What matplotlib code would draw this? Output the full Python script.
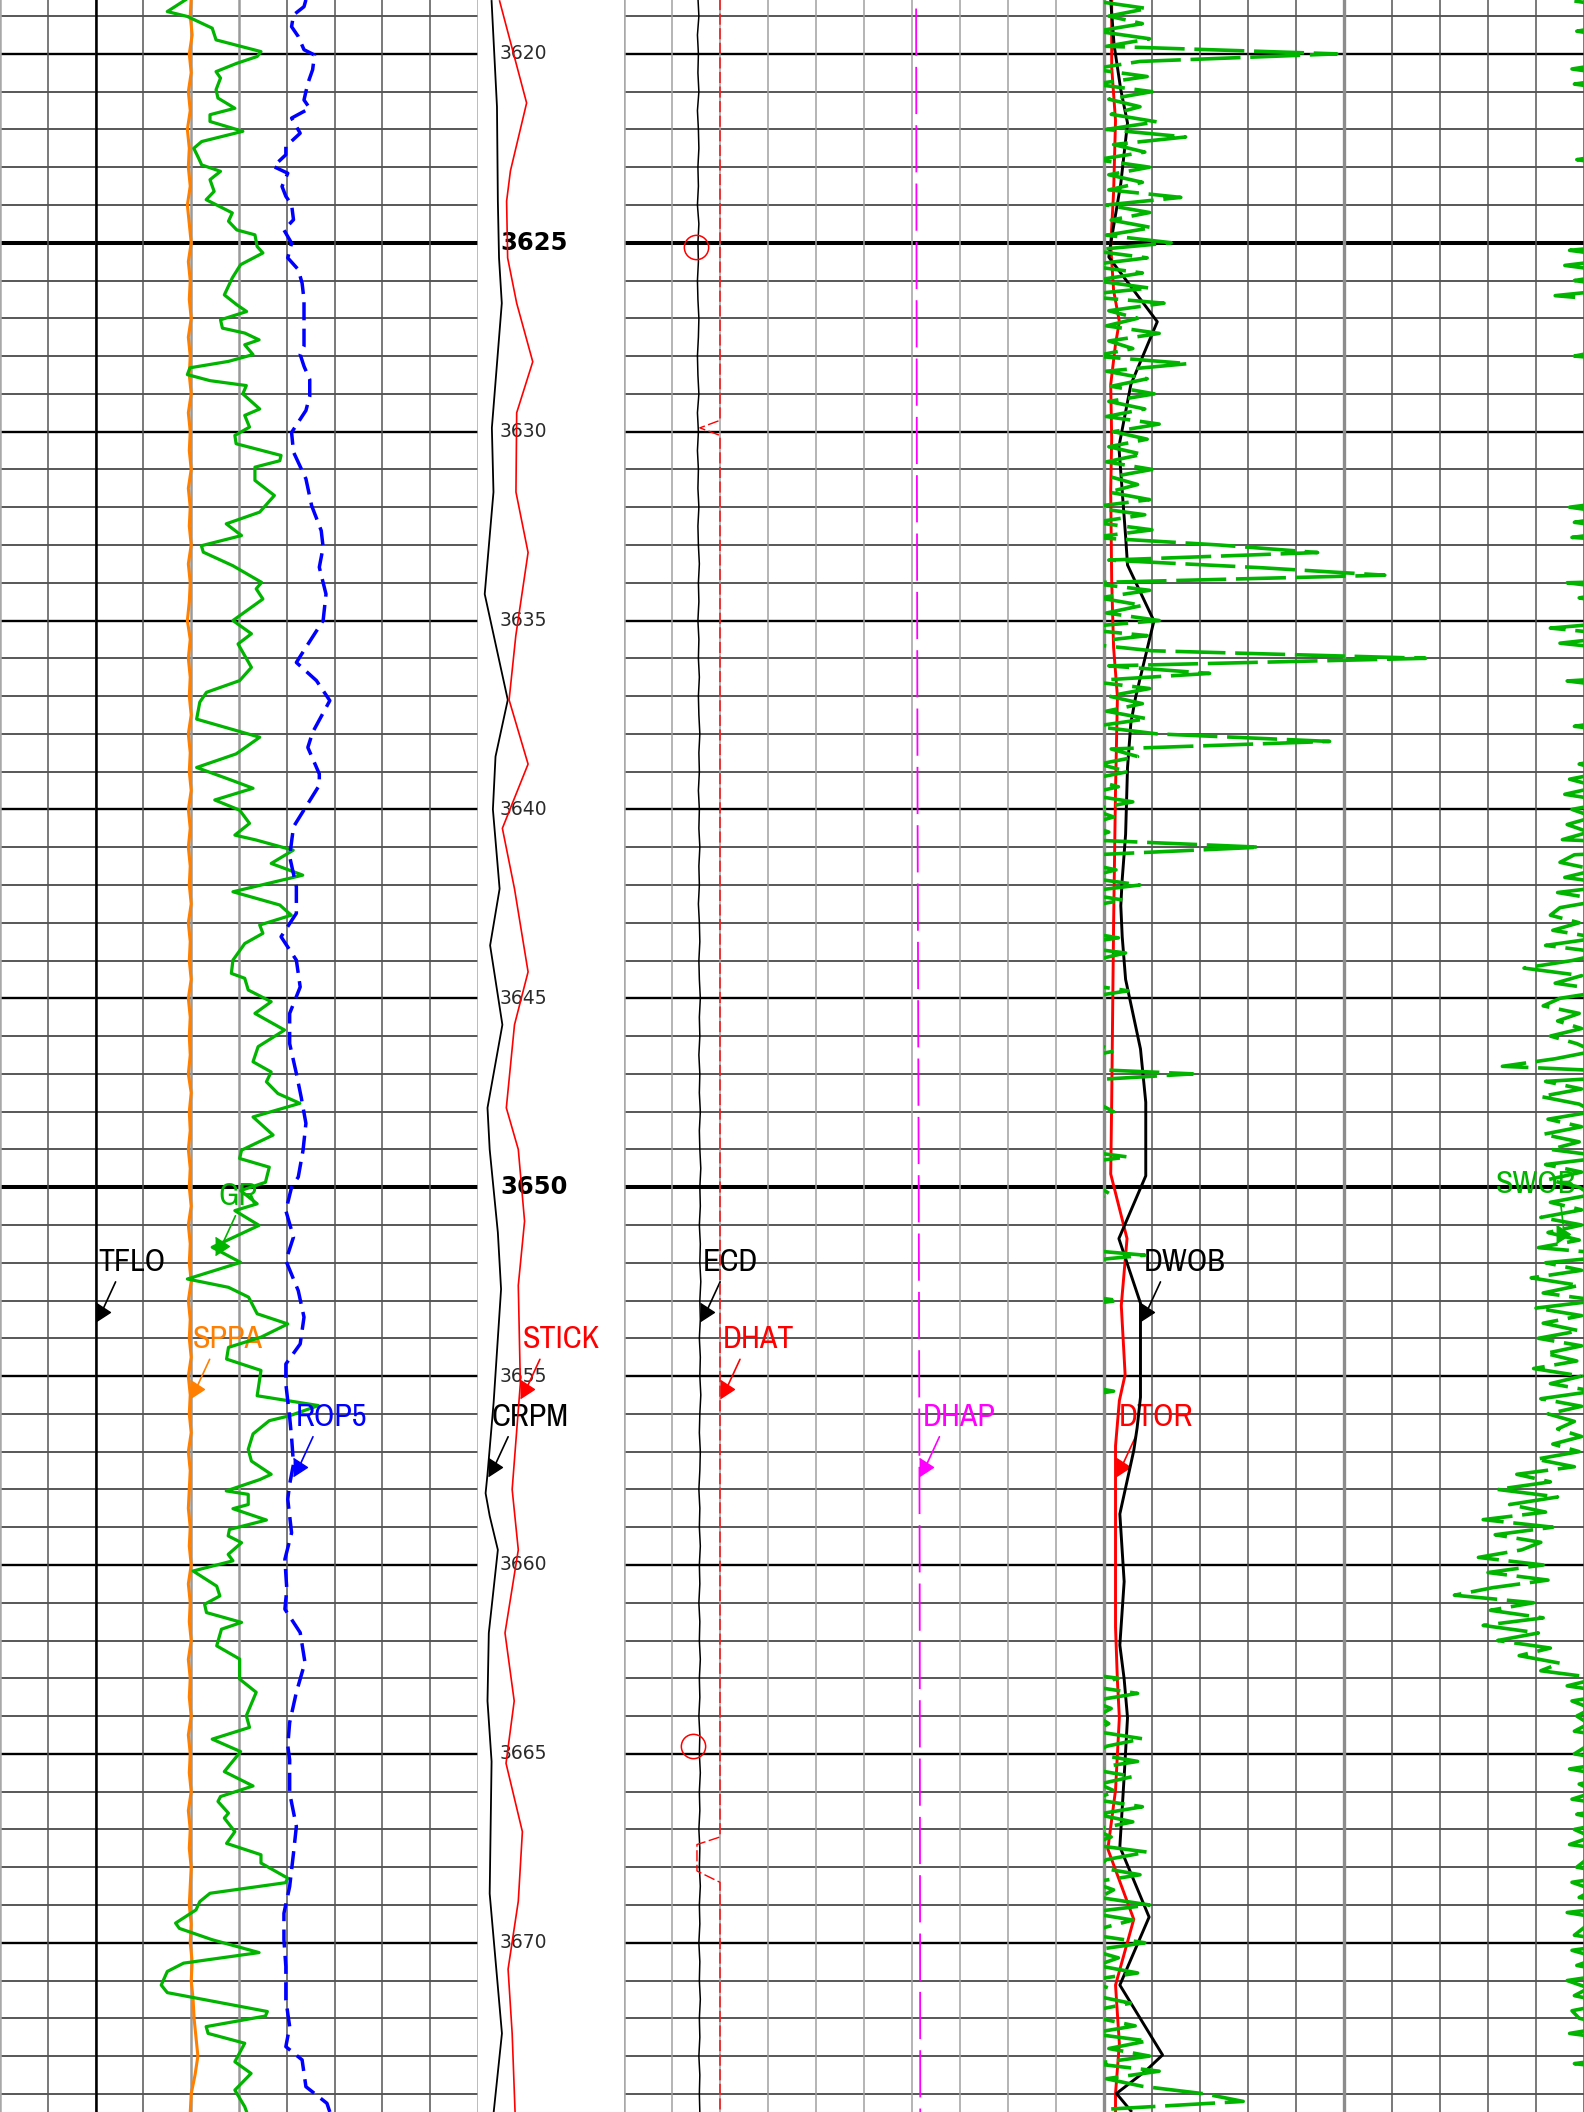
import numpy as np
import matplotlib
matplotlib.use('Agg')
import matplotlib.pyplot as plt
from matplotlib import font_manager
from matplotlib.transforms import offset_copy

plt.rcParams['lines.scale_dashes'] = False
plt.rcParams['lines.solid_joinstyle'] = 'round'

TOP, BOTTOM = 3618.574, 3674.48

# ---- left track curves ----
# GR (gAPI, scale 0-150)
gr_depth = [3618.57, 3618.88, 3619.01, 3619.32, 3619.63, 3619.94, 3620.07, 3620.25, 3620.47, 3620.64,
            3620.95, 3621.17, 3621.44, 3621.61, 3621.79, 3622.05, 3622.32, 3622.50, 3622.72, 3622.94,
            3623.11, 3623.33, 3623.64, 3623.86, 3624.21, 3624.43, 3624.66, 3624.79, 3625.10, 3625.27,
            3625.58, 3625.93, 3626.38, 3626.64, 3626.82, 3627.04, 3627.26, 3627.39, 3627.57, 3627.70,
            3627.96, 3628.14, 3628.31, 3628.49, 3628.65, 3628.78,
            3629.00, 3629.40, 3629.57, 3629.88, 3630.10, 3630.32, 3630.63, 3630.77, 3630.94, 3631.29,
            3631.69, 3632.13, 3632.44, 3632.75, 3633.02, 3633.19, 3633.55, 3633.99, 3634.16, 3634.43,
            3635.00, 3635.35, 3635.62, 3636.24, 3636.59, 3636.90, 3637.16, 3637.61, 3638.09, 3638.53,
            3638.89, 3639.24,
            3639.44, 3639.75, 3640.02, 3640.37, 3640.68, 3640.81, 3641.08, 3641.43, 3641.74, 3642.18,
            3642.53, 3642.80, 3643.06, 3643.28, 3643.55, 3643.99, 3644.34, 3644.47, 3644.78, 3645.09,
            3645.40, 3645.84, 3646.28, 3646.68, 3646.95, 3647.21, 3647.52, 3647.78, 3648.14, 3648.62,
            3649.02, 3649.24,
            3649.47, 3649.87, 3650.09, 3650.44, 3650.62, 3651.01, 3651.59, 3651.99, 3652.43, 3652.65,
            3652.91, 3653.35, 3653.62, 3653.97, 3654.24, 3654.55, 3654.85, 3655.52, 3655.78, 3656.05,
            3656.18, 3656.53, 3656.94,
            3657.25, 3657.60, 3657.74, 3658.04, 3658.13, 3658.40, 3658.51, 3658.81, 3659.06, 3659.23,
            3659.41, 3659.72, 3659.89, 3660.16, 3660.56, 3660.82, 3661.04, 3661.26, 3661.52, 3661.70,
            3662.14, 3662.49, 3663.02, 3663.37, 3663.99, 3664.30,
            3664.61, 3664.94, 3665.47, 3665.85, 3666.13, 3666.26, 3666.57, 3666.70, 3667.06, 3667.37,
            3667.67, 3667.89, 3668.29, 3668.41, 3668.69, 3668.91, 3669.13, 3669.48, 3669.62, 3669.92,
            3670.26, 3670.54, 3670.76, 3671.12, 3671.32, 3671.82, 3671.94, 3672.22, 3672.40, 3672.66,
            3673.15, 3673.46, 3673.90, 3674.34, 3674.48]
gr = [58.2, 52.5, 58.8, 66.6, 67.8, 81.9, 80.7, 74.3, 67.8, 69.2,
      67.8, 68.4, 73.7, 65.9, 65.9, 76.2, 63.3, 60.8, 62.1, 63.3,
      69.2, 65.9, 67.2, 64.7, 72.9, 71.7, 74.3, 80.0, 80.7, 82.5,
      75.5, 72.9, 70.4, 74.3, 77.4, 69.2, 69.8, 76.8, 81.3, 76.8,
      79.4, 71.7, 59.6, 58.8, 65.9, 77.3,
      76.2, 81.5, 76.8, 78.3, 73.7, 74.1, 88.2, 87.8, 80.0, 80.0,
      86.1, 81.5, 71.0, 75.8, 63.2, 63.8, 73.1, 82.1, 80.4, 82.5,
      73.1, 78.9, 74.7, 78.9, 75.2, 64.8, 62.7, 61.7, 81.5, 74.1,
      61.7, 73.1,
      79.4, 67.4, 75.2, 78.3, 73.7, 80.4, 92.0, 85.1, 95.0, 73.1,
      87.8, 91.4, 81.5, 82.5, 76.8, 73.1, 72.6, 76.8, 77.9, 85.1,
      80.0, 89.3, 81.0, 79.4, 85.1, 83.6, 87.2, 94.1, 79.4, 85.7,
      75.8, 75.2,
      84.5, 83.3, 75.5, 80.7, 73.7, 81.3, 66.6, 75.5, 58.8, 71.7,
      78.0, 80.7, 90.3, 81.9, 71.7, 71.1, 81.9, 80.7, 99.9, 90.9,
      84.5, 79.4, 77.9,
      78.9, 85.1, 81.5, 71.0, 77.9, 77.9, 73.1, 83.6, 72.0, 71.6,
      75.8, 71.6, 73.1, 60.6, 68.0, 69.0, 64.2, 64.8, 75.8, 69.5,
      68.0, 75.2, 75.2, 80.4, 77.3, 78.3,
      66.6, 75.5, 70.4, 79.4, 69.2, 68.4, 71.7, 70.4, 73.7, 71.1,
      81.9, 81.9, 90.3, 89.6, 65.9, 62.7, 61.5, 55.1, 56.3, 66.6,
      81.3, 57.6, 52.5, 50.6, 52.5, 83.9, 83.3, 64.7, 65.3, 76.8,
      73.7, 78.8, 73.7, 76.8, 77.4]

# ROP5 (m/h, scale 0-50)
rop_depth = [3618.57, 3618.75, 3618.97, 3619.28, 3619.54, 3619.89, 3620.03, 3620.42, 3620.78, 3621.22,
             3621.44, 3621.70, 3622.10, 3622.45, 3622.67, 3622.98, 3623.16, 3623.51, 3623.77, 3623.99,
             3624.39, 3624.66, 3625.01, 3625.40, 3625.71, 3626.07, 3626.51, 3627.04, 3627.30, 3627.74,
             3627.96, 3628.27, 3628.62, 3629.06,
             3629.44, 3630.02, 3630.54, 3631.25, 3631.96, 3632.62, 3633.06, 3633.59, 3634.30, 3635.00,
             3635.71, 3636.11, 3636.59, 3637.12, 3637.96, 3638.36, 3639.06,
             3639.36, 3639.93, 3640.46, 3641.25, 3642.05, 3642.75, 3643.37, 3643.99, 3644.70, 3645.40,
             3646.20, 3646.99, 3647.61, 3648.31, 3649.02, 3649.73,
             3650.00, 3650.62, 3651.32, 3651.94, 3652.74, 3653.44, 3654.15, 3654.68, 3655.21, 3656.09,
             3656.62, 3657.33, 3657.86,
             3658.26, 3659.15, 3659.85, 3660.64, 3661.17, 3661.79, 3662.58, 3663.37, 3664.17, 3664.78,
             3665.16, 3666.04, 3666.92, 3667.63, 3668.51, 3669.22, 3669.92, 3670.63, 3671.51, 3672.22,
             3672.75, 3673.10, 3673.81, 3674.25, 3674.48]
rop5 = [32.0, 31.8, 30.7, 30.5, 31.2, 31.8, 32.9, 32.7, 32.2, 31.8,
        32.4, 30.5, 31.4, 29.9, 29.9, 28.6, 30.1, 29.5, 29.9, 30.5,
        30.7, 29.7, 30.5, 30.1, 31.2, 31.6, 31.8, 31.8, 31.8, 31.8,
        31.4, 31.8, 32.4, 32.4,
        32.0, 30.5, 30.7, 32.0, 32.6, 33.6, 33.8, 33.4, 34.1, 33.8,
        32.0, 31.0, 33.1, 34.5, 32.7, 32.2, 33.4,
        33.4, 32.0, 30.7, 30.3, 31.0, 31.0, 29.4, 31.0, 31.4, 30.3,
        30.3, 31.0, 31.5, 32.0, 31.7, 31.2,
        30.5, 29.9, 30.7, 29.9, 31.2, 31.8, 31.4, 29.9, 29.9, 30.3,
        30.5, 30.7, 30.3,
        30.1, 30.5, 29.8, 30.0, 29.8, 31.4, 31.9, 31.0, 30.3, 30.1,
        30.3, 30.3, 31.0, 30.7, 30.3, 29.7, 29.7, 29.9, 29.9, 30.3,
        29.9, 31.6, 32.0, 34.2, 34.5]

# SPPA (bar, scale 0-500), sampled every 0.5 m from 3618.5
sppa = np.array("""
200 199 201 198 200 197 199 196 198 197 199 196 198 200 197 199 198 200 197 199 198 200 197 199
198 200 197 199 198 200 197 199 198 196 199 197 199 198 200 197 199 198 200 197 199 197 199 198
200 197 199 198 200 197 199 198 199 197 200 198 199 197 199 198
200 197 199 198 200 197 199 198 200 197 199 198 200 197 199 198 197 199 198 200 197 199 198 200
197 199 198 200 197 199 198 200 197 199 198 200 199 198 200 199 201 200 202 203 205 207 204 200 199
""".split(), dtype=float)
sppa_depth = np.linspace(3618.5, 3674.5, len(sppa))

# TFLO (L/min, scale 0-5000)
tflo_depth = [3618.5, 3674.5]
tflo = [1000, 1000]

# ---- depth track curves (scale 0-100) ----
crpm_depth = [3618.6, 3621.4, 3623.9, 3625.4, 3626.6, 3629.9, 3631.6, 3634.3, 3637.1, 3638.6,
              3640.0, 3642.1, 3643.6, 3645.7, 3647.9, 3649.0, 3651.2, 3652.7, 3655.7, 3657.6,
              3658.1, 3658.7, 3659.6, 3661.8, 3663.6, 3665.2, 3668.7, 3672.4, 3674.5]
crpm = [9.3, 13.0, 13.6, 14.4, 16.3, 9.5, 10.6, 4.6, 20.4, 12.0,
        10.2, 14.8, 8.3, 16.7, 6.5, 8.0, 13.6, 15.8, 10.7, 6.5,
        5.2, 8.0, 13.6, 7.4, 6.5, 9.3, 8.0, 16.4, 10.7]

stick_depth = [3618.6, 3621.3, 3623.1, 3623.9, 3625.4, 3626.6, 3628.15, 3629.5, 3631.6, 3633.2,
               3635.4, 3637.1, 3638.8, 3640.5, 3642.1, 3644.3, 3645.7, 3647.9, 3649.0, 3650.9,
               3652.6, 3655.2, 3658.0, 3659.6, 3661.8, 3663.6, 3665.25, 3667.06, 3668.9, 3670.7,
               3672.4, 3674.5]
stick = [14.8, 33.3, 22.2, 19.6, 20.3, 26.5, 37.5, 26.5, 26.0, 34.3,
         25.9, 21.3, 34.3, 16.7, 25.0, 34.3, 25.0, 19.4, 27.6, 31.9,
         27.6, 29.0, 23.4, 27.6, 18.5, 24.8, 19.2, 30.4, 27.6, 20.6,
         23.4, 25.4]

# ---- right track curves ----
# ECD (sg, scale 1.0-3.0), every 0.5 m from 3618.5
ecd = np.array("""
1.154 1.156 1.153 1.155 1.154 1.156 1.153 1.155 1.156 1.154 1.155 1.153 1.156 1.154 1.155 1.153
1.154 1.156 1.155 1.153 1.154 1.156 1.153 1.155
1.153 1.155 1.154 1.156 1.154 1.155 1.157 1.155 1.156 1.154 1.156 1.155 1.157 1.155 1.156 1.158
1.156 1.157 1.155 1.157 1.156 1.158 1.156 1.157 1.155 1.157 1.158 1.156 1.157 1.159 1.157 1.158
1.156 1.158 1.157 1.159 1.157 1.158 1.160 1.158
1.159 1.157 1.159 1.158 1.160 1.158 1.159 1.157 1.159 1.158 1.160 1.158 1.157 1.159 1.158 1.156
1.158 1.157 1.159 1.157 1.158 1.156 1.158 1.157 1.159 1.157 1.158 1.156 1.158 1.157 1.159 1.157
1.158 1.156 1.158 1.157 1.159 1.157 1.158 1.156 1.158 1.157 1.159 1.157 1.158 1.156 1.158 1.157
1.158
""".split(), dtype=float)
ecd_depth = np.linspace(3618.5, 3674.5, len(ecd))
ecd_flag_depth = [3625.12, 3664.8]
ecd_flag = [1.1506, 1.1431]

# DHAT (degC, scale 50-150)
dhat_depth = [3618.5, 3629.7, 3629.9, 3630.1, 3667.2, 3667.4, 3668.1, 3668.4, 3674.5]
dhat = [60.0, 60.0, 57.9, 60.0, 60.0, 57.6, 57.6, 60.0, 60.0]

# DHAP (bar, scale 0-1000)
dhap_depth = [3618.8, 3630.0, 3640.0, 3650.0, 3660.0, 3674.5]
dhap = [304.3, 305.0, 305.8, 307.0, 308.0, 308.6]

# DTOR (kN.m, scale 0-50)
dtor_depth = [3618.58, 3620.35, 3621.77, 3623.66, 3625.08, 3626.26, 3627.09, 3627.68, 3628.75, 3630.17,
              3631.58, 3633.95, 3635.72, 3637.02, 3639.48, 3643.03, 3647.75, 3649.65, 3651.36, 3653.13,
              3654.96, 3655.65, 3656.85, 3661.64, 3663.08, 3664.04, 3665.96, 3667.52, 3669.38, 3671.12,
              3672.67, 3673.99, 3674.45]
dtor = [25.4, 25.4, 25.6, 25.5, 25.35, 25.5, 25.8, 25.6, 25.35, 25.4,
        25.35, 25.4, 25.5, 25.7, 25.6, 25.5, 25.4, 25.35, 26.2, 25.9,
        26.1, 25.8, 25.6, 25.6, 25.7, 25.8, 25.6, 25.2, 26.55, 25.6,
        25.8, 25.6, 25.6]

# DWOB (t, scale 0-40)
dwob_depth = [3618.58, 3619.76, 3620.95, 3621.83, 3623.43, 3625.02, 3625.38, 3627.09, 3628.75, 3630.40,
              3632.77, 3633.53, 3635.01, 3637.02, 3637.71, 3638.89, 3640.66, 3641.84, 3642.55, 3643.38,
              3644.50, 3645.15, 3646.34, 3647.75, 3649.70, 3651.36, 3653.07, 3655.56, 3656.37, 3656.97,
              3658.65, 3660.44, 3662.12, 3663.02, 3664.04, 3665.60, 3667.46, 3669.32, 3671.12, 3672.97,
              3673.39, 3673.99, 3674.45]
dwob = [20.28, 20.42, 20.70, 20.98, 20.70, 20.28, 20.20, 22.22, 21.12, 20.62,
        20.90, 20.98, 22.08, 21.32, 21.12, 20.98, 20.90, 20.76, 20.70, 20.76,
        20.90, 21.12, 21.52, 21.74, 21.74, 20.62, 21.52, 21.52, 21.38, 21.24,
        20.66, 20.84, 20.66, 20.84, 20.98, 20.84, 20.66, 21.88, 20.66, 22.44,
        21.74, 20.52, 21.12]

# SWOB (t, scale 0-20 on the right half, wraps every 20), every 0.2 m from 3618.6
swob = np.array("""
19.6 21.8 20.2 21.6 19.7  21.9 20.1 29.7 21.5 19.5  21.8 19.6 22.0 20.2 21.5  20.3 22.2 20.1 23.4 20.4
21.7 19.7 21.9 20.2 21.6  20.2 23.2 20.1 21.9 20.3  22.0 20.1 22.8 19.4 21.8  19.2 21.6 19.6 21.9 18.8
22.5 20.2 21.4 20.1 22.3  20.2 21.2 19.6 23.5 20.1  21.8 20.3 22.1 20.2 21.7  20.1 22.3 20.4 21.8 20.2
21.6 20.1 22.0 20.3 21.4  20.2 21.9 19.4 21.7 19.6  22.0 19.5 24.8 28.9 20.2  26.5 31.7 19.3 21.9 19.8
21.6 20.1 22.3 18.6 21.8  19.0 22.0 33.4 20.2 24.4  19.3 21.9 20.2 21.6 20.1  21.8 19.6 22.2 29.4 20.3
21.4 19.8 21.0 19.4 20.6  19.2 21.2 19.5 20.4 19.3  20.2 19.1 26.5 19.6 19.0  20.5 19.2 21.5 18.9 20.8
19.0 18.6 19.8 18.7 20.6  18.4 20.9 19.5 17.5 19.9  18.8 21.0 19.0 18.3 19.8  18.9 19.9 18.6 19.7 20.4
18.8 16.6 23.7 18.4 19.9  18.2 19.8 20.4 18.5 19.9  18.3 19.8 18.6 21.0 18.4  19.9 18.5 19.8 20.3 18.6
19.9 18.2 19.9 18.5 19.8  18.1 21.7 18.4 19.9 17.8  19.8 18.3 20.6 18.0 19.9  18.3 19.8 18.1 19.9 18.4
19.7 17.9 19.9 18.6 20.4  18.2 19.9 18.5 19.6 18.9  19.9 18.7 19.8 18.0 19.6  17.2 18.6 16.4 18.9 16.9
18.4 15.8 18.7 16.3 18.2  17.4 15.6 18.3 16.0 18.5  16.2 14.6 17.9 16.1 18.3  15.8 18.1 16.4 18.6 17.3
19.0 18.2 20.6 19.3 21.4  19.5 20.3 19.7 20.2 19.6  21.6 20.1 19.6 21.4 19.4  21.2 19.8 20.5 19.5 21.6
19.7 21.2 19.6 20.3 19.4  21.8 20.1 19.7 21.5 19.5  20.4 19.8 21.9 19.3 21.2  20.0 19.6 21.7 19.5 20.6
19.7 21.4 19.3 20.2 19.6  21.1 19.5 19.8 21.3 19.4  21.8 20.2 21.9 19.6 22.3  20.1 21.6 24.2 25.8 20.3
""".split(), dtype=float)
swob_depth = np.linspace(3618.6, 3674.4, len(swob))

depth_marks = list(range(3620, 3675, 5))

GREEN = '#00b400'
ORANGE = '#ff7f00'


# curve tags want an upright narrow sans; fall back to Liberation Sans a bit smaller
def _narrow_rank(f):
    if 'Liberation Sans Narrow' in f.name:
        return 0
    if 'Narrow' in f.name:
        return 1
    return 2


narrow = sorted([f for f in font_manager.fontManager.ttflist
                 if f.style == 'normal' and f.weight in (400, 'normal', 'regular')
                 and ('Narrow' in f.name or 'Condensed' in f.name or f.stretch == 'condensed')],
                key=_narrow_rank)
if narrow:
    tag_font = dict(fontproperties=font_manager.FontProperties(fname=narrow[0].fname, size=23))
else:
    tag_font = dict(family=['Liberation Sans', 'DejaVu Sans'], fontsize=19)

W, H = 1584, 2112
fig = plt.figure(figsize=(W / 100, H / 100), dpi=100)
left = fig.add_axes([0, 0, 478 / W, 1])
mid = fig.add_axes([478 / W, 0, 146 / W, 1])
right = fig.add_axes([624 / W, 0, 960 / W, 1])
for ax in (left, mid, right):
    ax.set_ylim(BOTTOM, TOP)
    ax.set_xticks([])
    ax.set_yticks([])
    for s in ax.spines.values():
        s.set_visible(False)
left.set_xlim(0, 10)
right.set_xlim(0, 20)
mid.set_xlim(0, 1)

# grid
for ax in (left, right):
    for m in range(3619, 3675):
        if m % 25 == 0:
            ax.axhline(m, color='black', lw=2.9, zorder=1)
        elif m % 5 == 0:
            ax.axhline(m, color='black', lw=1.7, zorder=1)
        else:
            ax.axhline(m, color='#2a2a2a', lw=1.1, zorder=1)
for i in range(11):
    if i in (0, 10):
        left.axvline(i, color='#a8a8a8', lw=1.8, zorder=1)
    elif i in (4, 5):
        left.axvline(i, color='#9a9a9a', lw=1.8, zorder=1)
    else:
        left.axvline(i, color='#555555', lw=1.1, zorder=1)
for i in range(21):
    if i == 0:
        right.axvline(i, color='#a8a8a8', lw=1.8, zorder=1)
    elif i in (10, 15):
        right.axvline(i, color='#8c8c8c', lw=2.4, zorder=1)
    elif i < 10:
        right.axvline(i, color='#a0a0a0', lw=1.1, zorder=1)
    else:
        right.axvline(i, color='#555555', lw=1.1, zorder=1)

# depth labels
for m in depth_marks:
    if m % 25 == 0:
        mid.text(0.15, m, str(m), transform=mid.get_yaxis_transform(), ha='left', va='center',
                 fontsize=17.5, fontweight='bold', color='black')
    else:
        mid.text(0.15, m, str(m), transform=mid.get_yaxis_transform(), ha='left', va='center',
                 fontsize=13.5, color='#2a2a2a')


def overlay(track, lo, hi):
    a = track.twiny()
    a.set_xlim(lo, hi)
    a.axis('off')
    return a


tri_marker = [(-1, -1.3), (1, 0), (-1, 1.3)]


def tag(ax, name, color, d_pt, x_pt, tx=3, line_from=(20, 30)):
    tri = offset_copy(ax.transData, fig=fig, x=7, y=0, units='dots')
    ax.plot([x_pt], [d_pt], marker=tri_marker, ms=13, color=color, transform=tri,
            clip_on=False, zorder=6)
    end = offset_copy(ax.transData, fig=fig, x=8, y=4, units='dots')
    ax.annotate('', xy=(x_pt, d_pt), xycoords=end,
                xytext=(line_from[0] - 8, line_from[1] - 4), textcoords='offset pixels',
                arrowprops=dict(arrowstyle='-', color=color, lw=1.2, shrinkA=0, shrinkB=0))
    ax.annotate(name, xy=(x_pt, d_pt), xytext=(tx, 50), textcoords='offset pixels',
                ha='left', va='center', color=color, **tag_font)


# left track
a_tflo = overlay(left, 0, 5000)
a_tflo.plot(tflo, tflo_depth, color='black', lw=1.8)
a_sppa = overlay(left, 0, 500)
a_sppa.plot(sppa, sppa_depth, color=ORANGE, lw=2.2)
a_gr = overlay(left, 0, 150)
a_gr.plot(gr, gr_depth, color=GREEN, lw=2.3)
a_rop = overlay(left, 0, 50)
a_rop.plot(rop5, rop_depth, color='blue', lw=2.5, dashes=(13, 6))

tag(a_tflo, 'TFLO', 'black', 3653.3, np.interp(3653.3, tflo_depth, tflo))
tag(a_gr, 'GR', GREEN, 3651.55, np.interp(3651.55, gr_depth, gr))
tag(a_sppa, 'SPPA', ORANGE, 3655.35, np.interp(3655.35, sppa_depth, sppa))
tag(a_rop, 'ROP5', 'blue', 3657.4, np.interp(3657.4, rop_depth, rop5))

# depth track
a_crpm = overlay(mid, 0, 100)
a_crpm.plot(crpm, crpm_depth, color='black', lw=1.3)
a_stick = overlay(mid, 0, 100)
a_stick.plot(stick, stick_depth, color='red', lw=1.2)
tag(a_stick, 'STICK', 'red', 3655.35, np.interp(3655.35, stick_depth, stick))
tag(a_crpm, 'CRPM', 'black', 3657.4, np.interp(3657.4, crpm_depth, crpm))

# right track
a_ecd = overlay(right, 1.0, 3.0)
a_ecd.plot(ecd, ecd_depth, color='black', lw=1.1)
a_ecd.plot(ecd_flag, ecd_flag_depth, ls='none', marker='o', ms=17.5, mfc='none', mec='red', mew=1.1)
a_dhat = overlay(right, 50, 150)
a_dhat.plot(dhat, dhat_depth, color='red', lw=1.0, dashes=(8, 2.5))
a_dhap = overlay(right, 0, 1000)
a_dhap.plot(dhap, dhap_depth, color='magenta', lw=1.3, dashes=(34, 8))
a_dtor = overlay(right, 0, 50)
a_dtor.plot(dtor, dtor_depth, color='red', lw=2.1)
a_dwob = overlay(right, 0, 40)
a_dwob.plot(dwob, dwob_depth, color='black', lw=2.1)

# SWOB on the right half, with wrap-around onto the backup scale
a_swob = fig.add_axes([1104 / W, 0, 480 / W, 1], sharey=right)
a_swob.set_xlim(0, 20)
a_swob.axis('off')
a_swob.plot(swob, swob_depth, color=GREEN, lw=2.6, dashes=(36, 7))
a_swob.plot(swob - 20, swob_depth, color=GREEN, lw=2.6, dashes=(36, 7))

tag(a_ecd, 'ECD', 'black', 3653.3, np.interp(3653.3, ecd_depth, ecd))
tag(a_dhat, 'DHAT', 'red', 3655.35, np.interp(3655.35, dhat_depth, dhat))
tag(a_dhap, 'DHAP', 'magenta', 3657.4, np.interp(3657.4, dhap_depth, dhap))
tag(a_dtor, 'DTOR', 'red', 3657.4, np.interp(3657.4, dtor_depth, dtor))
tag(a_dwob, 'DWOB', 'black', 3653.3, np.interp(3653.3, dwob_depth, dwob))
swob_pt = np.interp(3651.25, swob_depth, swob)
tag(a_swob, 'SWOB', GREEN, 3651.25, swob_pt if swob_pt <= 20 else swob_pt - 20,
    tx=-60, line_from=(5, 30))

fig.savefig('out.png', dpi=100)
